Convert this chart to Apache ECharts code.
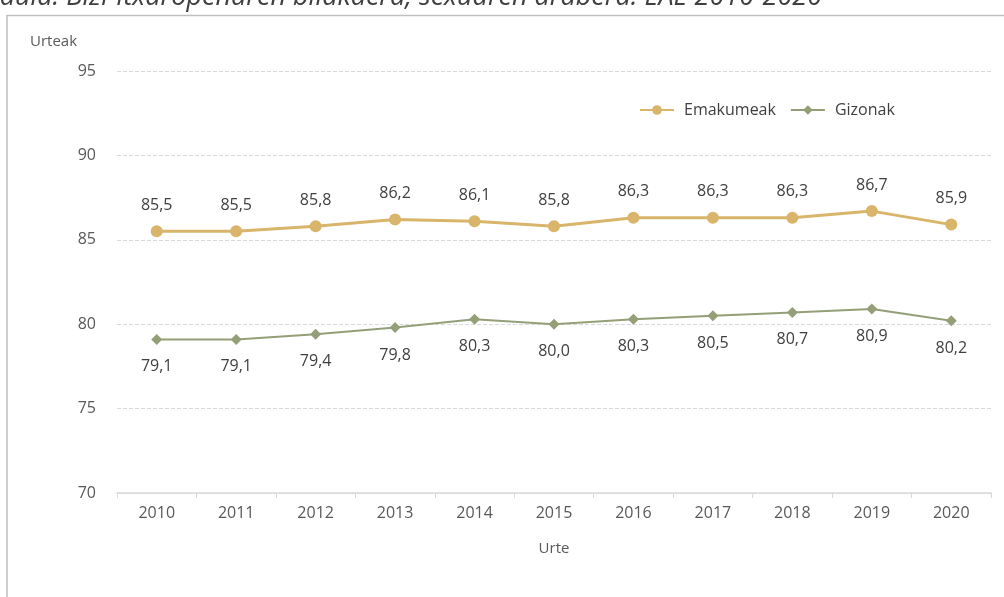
<!DOCTYPE html>
<html>
<head>
<meta charset="utf-8">
<script src="https://cdn.jsdelivr.net/npm/echarts@6/dist/echarts.min.js"></script>
<style>
  html, body { margin: 0; padding: 0; background: #fff; }
  #chart { width: 1004px; height: 597px; }
</style>
</head>
<body>
<div id="chart"></div>
<script>
const years = ["2010", "2011", "2012", "2013", "2014", "2015", "2016", "2017", "2018", "2019", "2020"];
const emakumeak = [85.5, 85.5, 85.8, 86.2, 86.1, 85.8, 86.3, 86.3, 86.3, 86.7, 85.9];
const gizonak = [79.1, 79.1, 79.4, 79.8, 80.3, 80.0, 80.3, 80.5, 80.7, 80.9, 80.2];
const yTicks = [70, 75, 80, 85, 90, 95];

const fontFamily = "'Open Sans', 'Noto Sans', sans-serif";
const fmt = (p) => p.value.toFixed(1).replace(".", ",");

const chart = echarts.init(document.getElementById("chart"));
chart.setOption({
  animation: false,
  textStyle: { fontFamily },
  grid: { left: 117, right: 13, top: 71, bottom: 104, containLabel: false },
  legend: {
    top: 97,
    left: 634,
    itemWidth: 34,
    itemHeight: 12,
    itemGap: 14,
    textStyle: { color: "#404040", fontSize: 16, fontFamily, padding: [0, 0, 0, 5] },
    data: ["Emakumeak", "Gizonak"],
  },
  graphic: [
    {
      type: "text",
      right: 182,
      top: -16,
      style: {
        text: "Taula. Bizi-itxaropenaren bilakaera, sexuaren arabera. EAE 2010-2020",
        fill: "#404040",
        font: "italic 27px " + fontFamily,
      },
    },
    {
      type: "polyline",
      shape: { points: [[7, 597], [7, 15.5], [1004, 15.5]] },
      style: { stroke: "#bfbfbf", lineWidth: 1.5, fill: null },
    },
    {
      type: "text",
      left: 30,
      top: 34,
      style: { text: "Urteak", fill: "#595959", font: "15px " + fontFamily },
    },
  ],
  xAxis: {
    type: "category",
    data: years,
    boundaryGap: true,
    name: "Urte",
    nameLocation: "middle",
    nameGap: 48,
    nameTextStyle: { color: "#595959", fontSize: 15 },
    axisLine: { lineStyle: { color: "#d9d9d9", width: 1.5 } },
    axisTick: { show: true, length: 5, lineStyle: { color: "#d9d9d9" } },
    axisLabel: { color: "#595959", fontSize: 16, margin: 12 },
  },
  yAxis: {
    type: "value",
    min: yTicks[0],
    max: yTicks[yTicks.length - 1],
    interval: 5,
    axisLine: { show: false },
    axisTick: { show: false },
    axisLabel: { color: "#595959", fontSize: 16, margin: 21 },
    splitLine: { lineStyle: { color: "#d9d9d9", type: "dashed", width: 1 } },
  },
  series: [
    {
      name: "Emakumeak",
      type: "line",
      data: emakumeak,
      symbol: "circle",
      symbolSize: 12,
      color: "#d8b56a",
      lineStyle: { width: 3, color: "#d8b56a" },
      itemStyle: { color: "#d8b56a" },
      label: {
        show: true,
        position: "top",
        distance: 12,
        formatter: fmt,
        color: "#404040",
        fontSize: 16,
      },
    },
    {
      name: "Gizonak",
      type: "line",
      data: gizonak,
      symbol: "diamond",
      symbolSize: 11,
      color: "#949f78",
      lineStyle: { width: 2, color: "#949f78" },
      itemStyle: { color: "#949f78" },
      label: {
        show: true,
        position: "bottom",
        distance: 14,
        formatter: fmt,
        color: "#404040",
        fontSize: 16,
      },
    },
  ],
});
</script>
</body>
</html>
